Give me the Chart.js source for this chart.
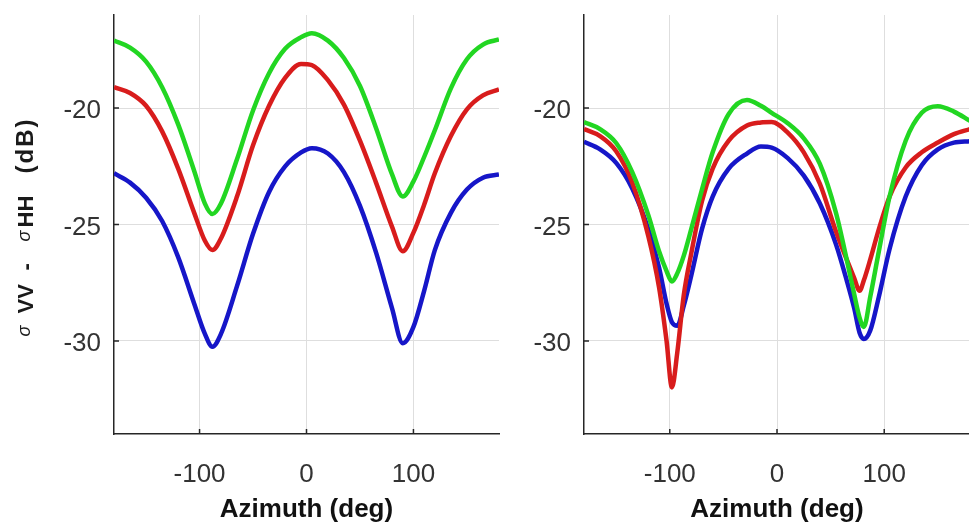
<!DOCTYPE html>
<html>
<head>
<meta charset="utf-8">
<script src="https://cdn.jsdelivr.net/npm/chart.js@4.4.1/dist/chart.umd.min.js"></script>
<style>
  html, body { margin: 0; padding: 0; background: #fff; }
  #stage { position: relative; width: 969px; height: 527px; overflow: hidden; background: #fff; }
  #stage canvas { position: absolute; top: 0; }
  #left-chart { left: 0; }
  #right-chart { left: 470px; }
</style>
</head>
<body>
<div id="stage">
  <canvas id="left-chart" width="520" height="527"></canvas>
  <canvas id="right-chart" width="520" height="527"></canvas>
</div>
<script>
// left panel
const azimuthLeft = [-180, -165, -150, -135, -120, -105, -95, -88, -80, -65, -50, -35, -20, -5,
    5, 20, 35, 50, 65, 80, 90, 100, 110, 120, 135, 150, 165, 180];
const greenLeft = [-17.1, -17.4, -18.0, -19.1, -20.7, -22.7, -24.1, -24.55, -24.1, -22.2, -20.1, -18.5, -17.45, -16.95,
    -16.78, -17.1, -17.85, -19.05, -20.85, -22.85, -23.8, -23.15, -22.1, -20.95, -19.15, -17.9, -17.27, -17.05];
const redLeft = [-19.1, -19.35, -19.9, -21.0, -22.6, -24.5, -25.7, -26.1, -25.6, -23.8, -21.6, -19.9, -18.7, -18.1,
    -18.15, -18.8, -19.85, -21.4, -23.2, -25.1, -26.15, -25.35, -24.15, -22.8, -21.2, -20.05, -19.45, -19.2];
const blueLeft = [-22.8, -23.2, -23.85, -24.85, -26.4, -28.4, -29.7, -30.25, -29.7, -27.65, -25.4, -23.6, -22.5, -21.9,
    -21.72, -21.95, -22.75, -24.2, -26.2, -28.6, -30.1, -29.4, -27.85, -26.1, -24.5, -23.5, -22.99, -22.85];

// right panel
const azimuthRight = [-180, -165, -150, -135, -120, -110, -103, -98, -93, -87, -80, -70, -60, -45, -28, -15, -5,
    10, 25, 40, 55, 65, 72, 77, 81, 87, 95, 105, 120, 135, 150, 165, 180];
const greenRight = [-20.6, -20.9, -21.5, -22.75, -24.6, -26.15, -27.0, -27.45, -27.1, -26.35, -25.2, -23.5, -21.9, -20.25, -19.65, -19.9, -20.2,
    -20.65, -21.3, -22.4, -24.5, -26.5, -28.0, -29.0, -29.4, -28.1, -26.15, -23.8, -21.4, -20.2, -19.92, -20.15, -20.55];
const redRight = [-20.9, -21.2, -21.85, -23.2, -25.5, -27.7, -30.0, -32.0, -30.5, -28.05, -26.25, -24.0, -22.6, -21.4, -20.75, -20.62, -20.6,
    -21.05, -21.9, -23.25, -25.3, -26.5, -27.3, -27.85, -27.4, -26.5, -25.2, -23.8, -22.55, -21.9, -21.48, -21.12, -20.9];
const blueRight = [-21.45, -21.77, -22.35, -23.45, -25.2, -26.85, -28.4, -29.2, -29.35, -28.5, -27.2, -25.2, -23.8, -22.6, -21.95, -21.65, -21.7,
    -22.15, -22.9, -24.1, -25.85, -27.4, -28.6, -29.65, -29.92, -29.55, -28.1, -26.05, -23.8, -22.45, -21.77, -21.48, -21.42];

const xTicks = [-100, 0, 100];
const yTicks = [-30, -25, -20];

const FONT = "'Liberation Sans', Arial, sans-serif";
const AXIS_COLOR = '#262626';

const yLabelParts = [
    { text: 'σ', font: "italic 18px 'Liberation Sans'", at: 0, rise: 3 },
    { text: 'VV', font: "bold 22px 'Liberation Sans'", at: 23, rise: 0 },
    { text: '-', font: "bold 22px 'Liberation Sans'", at: 66, rise: 0 },
    { text: 'σ', font: "italic 18px 'Liberation Sans'", at: 95, rise: 3 },
    { text: 'HH', font: "bold 22px 'Liberation Sans'", at: 109, rise: 0 },
    { text: '(dB)', font: "bold 24px 'Liberation Sans'", at: 163, rise: 0, spacing: '2px' },
];

const yLabel = {
    id: 'yLabel',
    afterDraw(chart) {
        const { ctx, chartArea } = chart;
        const mid = (chartArea.top + chartArea.bottom) / 2;

        ctx.save();
        ctx.translate(33, mid + 112);
        ctx.rotate(-Math.PI / 2);
        ctx.fillStyle = '#1a1a1a';
        ctx.textBaseline = 'alphabetic';
        yLabelParts.forEach((part) => {
            ctx.font = part.font;
            ctx.letterSpacing = part.spacing || '0px';
            ctx.fillText(part.text, part.at, -part.rise);
        });
        ctx.restore();
    },
};

// small tick marks pointing into the plot, like the original figure
const innerTicks = {
    id: 'innerTicks',
    afterDatasetsDraw(chart) {
        const { ctx, chartArea, scales } = chart;

        ctx.save();
        ctx.strokeStyle = AXIS_COLOR;
        ctx.lineWidth = 1.5;
        ctx.beginPath();
        scales.x.ticks.forEach((t) => {
            const px = scales.x.getPixelForValue(t.value);
            ctx.moveTo(px, chartArea.bottom);
            ctx.lineTo(px, chartArea.bottom - 5);
        });
        scales.y.ticks.forEach((t) => {
            const py = scales.y.getPixelForValue(t.value);
            ctx.moveTo(chartArea.left, py);
            ctx.lineTo(chartArea.left + 5, py);
        });
        ctx.stroke();
        ctx.restore();
    },
};

function series(azimuth, values, color, order) {
    return {
        data: azimuth.map((x, i) => ({ x, y: values[i] })),
        borderColor: color,
        borderWidth: 4.5,
        borderJoinStyle: 'round',
        pointRadius: 0,
        cubicInterpolationMode: 'monotone',
        fill: false,
        order,
    };
}

function drawPanel(id, azimuth, green, red, blue, padRight, extraPlugins) {
    new Chart(document.getElementById(id), {
        type: 'line',
        data: {
            datasets: [
                series(azimuth, green, '#22d622', 1),
                series(azimuth, red, '#d81c1c', 2),
                series(azimuth, blue, '#1616c8', 3),
            ],
        },
        options: {
            responsive: false,
            animation: false,
            events: [],
            layout: { padding: { top: 15, right: padRight, bottom: 0, left: 0 } },
            plugins: { legend: { display: false }, tooltip: { enabled: false } },
            scales: {
                x: {
                    type: 'linear',
                    min: -180,
                    max: 180,
                    afterBuildTicks: (scale) => { scale.ticks = xTicks.map((v) => ({ value: v })); },
                    afterFit: (scale) => {
                        scale.height = 93;
                        scale.paddingLeft = 0;
                        scale.paddingRight = 0;
                    },
                    grid: { color: '#dedede', lineWidth: 1, drawTicks: false },
                    border: { display: true, color: AXIS_COLOR, width: 1.5 },
                    ticks: { color: '#333', padding: 25, font: { family: FONT, size: 26 } },
                    title: {
                        display: true,
                        text: 'Azimuth (deg)',
                        color: '#111',
                        font: { family: FONT, size: 26, weight: 'bold', lineHeight: 1.2 },
                        padding: { top: 0, bottom: 2 },
                    },
                },
                y: {
                    min: -34,
                    max: -16,
                    afterBuildTicks: (scale) => { scale.ticks = yTicks.map((v) => ({ value: v })); },
                    afterFit: (scale) => {
                        scale.width = 114;
                        scale.paddingTop = 0;
                        scale.paddingBottom = 0;
                    },
                    grid: { color: '#dedede', lineWidth: 1, drawTicks: false },
                    border: { display: true, color: AXIS_COLOR, width: 1.5 },
                    ticks: { color: '#333', padding: 13, labelOffset: 3, font: { family: FONT, size: 26 } },
                },
            },
        },
        plugins: [innerTicks, ...extraPlugins],
    });
}

drawPanel('left-chart', azimuthLeft, greenLeft, redLeft, blueLeft, 21, [yLabel]);
drawPanel('right-chart', azimuthRight, greenRight, redRight, blueRight, 20, []);
</script>
</body>
</html>
